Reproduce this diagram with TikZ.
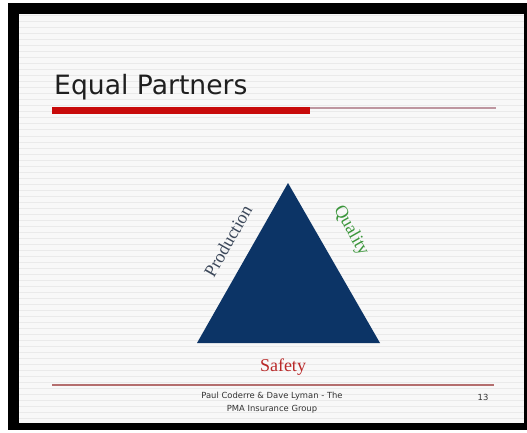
\documentclass[tikz,border=0pt]{standalone}
\usepackage{fontspec}
\setmainfont{Liberation Serif}
\newfontfamily\titlefont{DejaVu Sans}
\newfontfamily\footfont{DejaVu Sans}
\definecolor{navy}{RGB}{12,52,102}
\definecolor{barred}{RGB}{200,10,10}
\definecolor{thinline}{RGB}{190,150,160}
\definecolor{footline}{RGB}{180,110,110}
\definecolor{prodcol}{RGB}{60,72,90}
\definecolor{qualcol}{RGB}{60,150,60}
\definecolor{safecol}{RGB}{185,40,40}
\definecolor{stripe}{RGB}{234,234,234}
\definecolor{slidebg}{RGB}{248,248,248}
\tikzset{
  sidelabel/.style={inner sep=0pt, font=\fontsize{18}{20}\selectfont},
  foottext/.style={inner sep=0pt, font=\footfont\fontsize{8.4}{13}\selectfont, text=black!80, align=center},
}
\begin{document}
\begin{tikzpicture}[x=1pt,y=-1pt]
\useasboundingbox (0,0) rectangle (527,433);
\fill[white] (0,0) rectangle (527,433);
\fill[black] (8,3) rectangle (527,430);
\fill[slidebg] (19,14) rectangle (524,423);
\foreach \yy in {16,22,...,422} {
  \draw[stripe, line width=1pt] (19,\yy) -- (524,\yy);
}
% title
\node[anchor=base west, inner sep=0pt, font=\titlefont\fontsize{26.6}{30}\selectfont, text=black!88] (title) at (54,95) {Equal Partners};
% title rule
\fill[barred] (52,107) rectangle (310,114);
\coordinate (thinA) at (310,108);
\coordinate (thinB) at (496,108);
\draw[thinline, line width=1.2pt] (thinA) -- (thinB);
% triangle
\coordinate (apex) at (288,183);
\coordinate (bl) at (197,343);
\coordinate (br) at (380,343);
\fill[navy] (apex) -- (bl) -- (br) -- cycle;
% labels
\node[sidelabel, text=prodcol, rotate=60.4] (prod) at (228,241) {Production};
\node[sidelabel, text=qualcol, rotate=-60.4] (qual) at (351,231) {Quality};
\node[sidelabel, text=safecol] (safe) at (283,367) {Safety};
% footer
\coordinate (fA) at (52,385);
\coordinate (fB) at (494,385);
\draw[footline, line width=1.3pt] (fA) -- (fB);
\node[foottext] (foot) at (272,402.5) {Paul Coderre \& Dave Lyman - The\\PMA Insurance Group};
\node[inner sep=0pt, font=\footfont\fontsize{8.4}{9}\selectfont, text=black!80] (page) at (483,397) {13};
\end{tikzpicture}
\end{document}
